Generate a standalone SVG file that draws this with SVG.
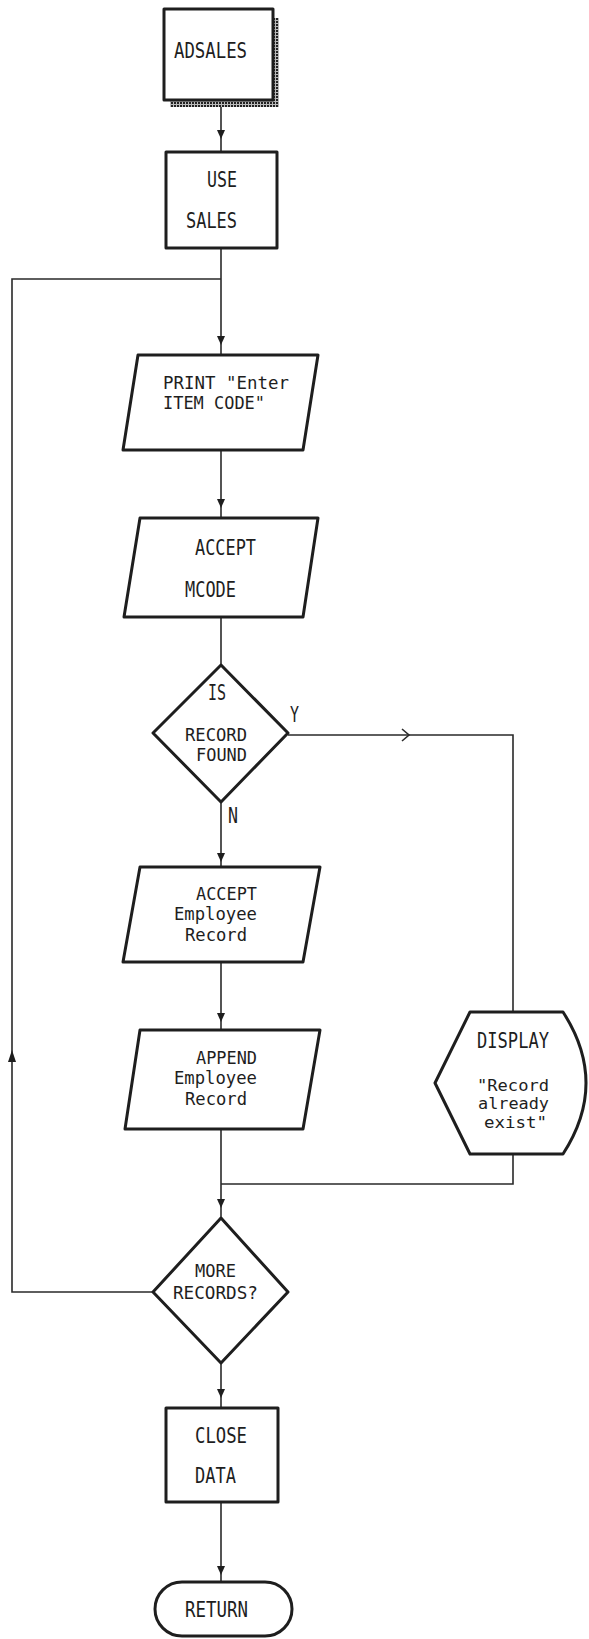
<svg xmlns="http://www.w3.org/2000/svg" width="589" height="1639" viewBox="0 0 589 1639">
<style>
.shape{fill:#fff;stroke:#1e1e1e;stroke-width:3;stroke-linejoin:round}
.conn{fill:none;stroke:#2a2a2a;stroke-width:1.6}
.ah{fill:#1e1e1e;stroke:none}
.t{font-family:"DejaVu Sans Mono","Liberation Mono",monospace;font-size:21px;fill:#1e1e1e}
.s{font-family:"DejaVu Sans Mono","Liberation Mono",monospace;font-size:17px;fill:#1e1e1e}
.d{font-family:"DejaVu Sans Mono","Liberation Mono",monospace;font-size:15.5px;fill:#1e1e1e}
</style>
<defs>
<pattern id="shade" width="3" height="3" patternUnits="userSpaceOnUse">
<rect width="3" height="3" fill="#bbb"/>
<rect width="2" height="2" fill="#222"/>
</pattern>
<path id="arrowDown" d="M-4,-9 L4,-9 L0,0 Z"/>
</defs>
<rect width="589" height="1639" fill="#fff"/>
<g id="connectors">
<line class="conn" x1="221" y1="107" x2="221" y2="152"/>
<line class="conn" x1="221" y1="248" x2="221" y2="355"/>
<line class="conn" x1="221" y1="450" x2="221" y2="518"/>
<line class="conn" x1="221" y1="617" x2="221" y2="665"/>
<line class="conn" x1="221" y1="802" x2="221" y2="867"/>
<polyline class="conn" points="288,735 513,735 513,1012"/>
<polyline class="conn" points="402,729 409,735 402,741"/>
<line class="conn" x1="221" y1="962" x2="221" y2="1030"/>
<line class="conn" x1="221" y1="1129" x2="221" y2="1218"/>
<polyline class="conn" points="513,1154 513,1184 221,1184"/>
<polyline class="conn" points="153,1292 12,1292 12,279 221,279"/>
<line class="conn" x1="221" y1="1363" x2="221" y2="1408"/>
<line class="conn" x1="221" y1="1502" x2="221" y2="1582"/>
<use href="#arrowDown" class="ah" x="221" y="139"/>
<use href="#arrowDown" class="ah" x="221" y="345"/>
<use href="#arrowDown" class="ah" x="221" y="508"/>
<use href="#arrowDown" class="ah" x="221" y="862"/>
<use href="#arrowDown" class="ah" x="221" y="1022"/>
<use href="#arrowDown" class="ah" x="221" y="1208"/>
<use href="#arrowDown" class="ah" x="221" y="1398"/>
<use href="#arrowDown" class="ah" x="221" y="1575"/>
<path class="ah" d="M8,1062 L16,1062 L12,1050 Z"/>
<text class="t" x="290" y="722" textLength="9" lengthAdjust="spacingAndGlyphs">Y</text>
<text class="t" x="228" y="823" textLength="10" lengthAdjust="spacingAndGlyphs">N</text>
</g>
<g id="adsales">
<rect x="273" y="18" width="6" height="89" fill="url(#shade)"/>
<rect x="170" y="100" width="109" height="7" fill="url(#shade)"/>
<rect class="shape" x="164" y="9" width="109" height="91"/>
<text class="t" x="174" y="58" textLength="73" lengthAdjust="spacingAndGlyphs">ADSALES</text>
</g>
<g id="use-sales">
<rect class="shape" x="166" y="152" width="111" height="96"/>
<text class="t" x="207" y="187" textLength="30" lengthAdjust="spacingAndGlyphs">USE</text>
<text class="t" x="186" y="228" textLength="51" lengthAdjust="spacingAndGlyphs">SALES</text>
</g>
<g id="print">
<polygon class="shape" points="138,355 318,355 303,450 123,450"/>
<text class="s" x="163" y="389" textLength="126" lengthAdjust="spacingAndGlyphs">PRINT "Enter</text>
<text class="s" x="163" y="409" textLength="102" lengthAdjust="spacingAndGlyphs">ITEM CODE"</text>
</g>
<g id="accept-mcode">
<polygon class="shape" points="140,518 318,518 303,617 124,617"/>
<text class="t" x="195" y="555" textLength="61" lengthAdjust="spacingAndGlyphs">ACCEPT</text>
<text class="t" x="185" y="597" textLength="51" lengthAdjust="spacingAndGlyphs">MCODE</text>
</g>
<g id="is-record-found">
<polygon class="shape" points="221,665 288,733 221,802 153,733"/>
<text class="t" x="208" y="700" textLength="18" lengthAdjust="spacingAndGlyphs">IS</text>
<text class="s" x="185" y="741" textLength="62" lengthAdjust="spacingAndGlyphs">RECORD</text>
<text class="s" x="196" y="761" textLength="51" lengthAdjust="spacingAndGlyphs">FOUND</text>
</g>
<g id="accept-employee">
<polygon class="shape" points="140,867 320,867 303,962 123,962"/>
<text class="s" x="196" y="900" textLength="61" lengthAdjust="spacingAndGlyphs">ACCEPT</text>
<text class="s" x="174" y="920" textLength="83" lengthAdjust="spacingAndGlyphs">Employee</text>
<text class="s" x="185" y="941" textLength="62" lengthAdjust="spacingAndGlyphs">Record</text>
</g>
<g id="append-employee">
<polygon class="shape" points="140,1030 320,1030 303,1129 125,1129"/>
<text class="s" x="196" y="1064" textLength="61" lengthAdjust="spacingAndGlyphs">APPEND</text>
<text class="s" x="174" y="1084" textLength="83" lengthAdjust="spacingAndGlyphs">Employee</text>
<text class="s" x="185" y="1105" textLength="62" lengthAdjust="spacingAndGlyphs">Record</text>
</g>
<g id="display">
<path class="shape" d="M470,1012 L563,1012 Q609,1083 563,1154 L470,1154 L435,1083 Z"/>
<text class="t" x="477" y="1048" textLength="72" lengthAdjust="spacingAndGlyphs">DISPLAY</text>
<text class="d" x="477" y="1091" textLength="72" lengthAdjust="spacingAndGlyphs">"Record</text>
<text class="d" x="478" y="1109" textLength="71" lengthAdjust="spacingAndGlyphs">already</text>
<text class="d" x="484" y="1128" textLength="63" lengthAdjust="spacingAndGlyphs">exist"</text>
</g>
<g id="more-records">
<polygon class="shape" points="221,1218 288,1292 221,1363 153,1292"/>
<text class="s" x="195" y="1277" textLength="41" lengthAdjust="spacingAndGlyphs">MORE</text>
<text class="s" x="173" y="1299" textLength="85" lengthAdjust="spacingAndGlyphs">RECORDS?</text>
</g>
<g id="close-data">
<rect class="shape" x="166" y="1408" width="112" height="94"/>
<text class="t" x="195" y="1443" textLength="52" lengthAdjust="spacingAndGlyphs">CLOSE</text>
<text class="t" x="195" y="1483" textLength="41" lengthAdjust="spacingAndGlyphs">DATA</text>
</g>
<g id="return">
<rect class="shape" x="155" y="1582" width="137" height="54" rx="27"/>
<text class="t" x="185" y="1617" textLength="63" lengthAdjust="spacingAndGlyphs">RETURN</text>
</g>
</svg>
